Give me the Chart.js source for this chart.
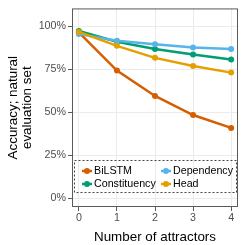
<!DOCTYPE html>
<html>
<head>
<meta charset="utf-8">
<script src="https://cdn.jsdelivr.net/npm/chart.js@4.4.1/dist/chart.umd.min.js"></script>
<style>
  html, body { margin: 0; padding: 0; background: #fff; }
  #wrap { width: 245px; height: 245px; }
</style>
</head>
<body>
<div id="wrap"><canvas id="accChart" width="245" height="245"></canvas></div>
<script>
// attractor counts on the x axis
const attractors = [0, 1, 2, 3, 4];
// accuracy (%) per model
const bilstm = [96.5, 74.3, 59.5, 48.4, 40.9];
const constituency = [97.3, 91.1, 86.9, 83.7, 80.8];
const dependency = [95.6, 91.7, 89.6, 87.7, 86.9];
const head = [96.8, 88.7, 81.7, 77.0, 73.1];
const yTicks = [0, 25, 50, 75, 100];

const FONT = "'Liberation Sans', Arial, Helvetica, sans-serif";

function toPoints(vals) {
  return vals.map((v, i) => ({ x: attractors[i], y: v }));
}

function makeSet(label, vals, color, order) {
  return {
    label: label,
    data: toPoints(vals),
    borderColor: color,
    backgroundColor: color,
    borderWidth: 2.5,
    pointRadius: 3,
    pointBorderWidth: 0,
    pointBackgroundColor: color,
    tension: 0,
    order: order,
  };
}

// panel border + dashed legend box inside the panel
const panelExtras = {
  id: "panelExtras",
  afterDatasetsDraw(chart) {
    const ctx = chart.ctx;
    const a = chart.chartArea;
    ctx.save();
    ctx.strokeStyle = "#5a5a5a";
    ctx.lineWidth = 1;
    ctx.strokeRect(a.left + 0.5, a.top + 0.5, a.right - a.left - 1, a.bottom - a.top - 1);

    // legend
    const bx = a.left + 2.5, by = a.bottom - 46.5;
    const bw = a.right - a.left - 4, bh = 32;
    ctx.setLineDash([2, 2]);
    ctx.strokeStyle = "#444";
    ctx.strokeRect(bx, by, bw, bh);
    ctx.setLineDash([]);

    const ds = chart.data.datasets;
    const cols = [[ds[0], ds[1]], [ds[2], ds[3]]];
    const colX = [a.left + 10, a.left + 89];
    const rowY = [by + 10.5, by + 23.5];
    ctx.font = "10.7px " + FONT;
    ctx.textBaseline = "middle";
    ctx.fillStyle = "#000";
    cols.forEach((col, c) => {
      col.forEach((d, r) => {
        const x = colX[c], y = rowY[r];
        ctx.strokeStyle = d.borderColor;
        ctx.lineWidth = 2.5;
        ctx.beginPath();
        ctx.moveTo(x, y);
        ctx.lineTo(x + 10, y);
        ctx.stroke();
        ctx.fillStyle = d.borderColor;
        ctx.beginPath();
        ctx.arc(x + 5, y, 3, 0, Math.PI * 2);
        ctx.fill();
        ctx.fillStyle = "#000";
        ctx.fillText(d.label, x + 12, y + 0.5);
      });
    });
    ctx.restore();
  },
};

const ctx = document.getElementById("accChart").getContext("2d");
new Chart(ctx, {
  type: "line",
  data: {
    datasets: [
      makeSet("BiLSTM", bilstm, "#D55E00", 3),
      makeSet("Constituency", constituency, "#009E73", 2),
      makeSet("Dependency", dependency, "#56B4E9", 1),
      makeSet("Head", head, "#E69F00", 0),
    ],
  },
  options: {
    responsive: false,
    animation: false,
    layout: { padding: { top: 6, right: 7, left: 0, bottom: 0 } },
    plugins: {
      legend: { display: false },
      tooltip: { enabled: false },
    },
    scales: {
      x: {
        type: "linear",
        min: -0.18,
        max: 4.18,
        afterBuildTicks: (s) => { s.ticks = attractors.map((v) => ({ value: v })); },
        afterFit: (s) => { s.height = 38; },
        ticks: {
          color: "#4D4D4D",
          font: { family: FONT, size: 10.7 },
          padding: 1,
          maxRotation: 0,
          callback: (v) => String(v),
        },
        grid: { color: "#EBEBEB", tickColor: "#5a5a5a", tickLength: 4, lineWidth: 1 },
        border: { display: false },
        title: {
          display: true,
          text: "Number of attractors",
          color: "#000",
          font: { family: FONT, size: 13.4 },
          padding: { top: 1, bottom: 0 },
        },
      },
      y: {
        min: -5.2,
        max: 110.5,
        afterBuildTicks: (s) => { s.ticks = yTicks.map((v) => ({ value: v })); },
        afterFit: (s) => { s.width = 72; },
        ticks: {
          color: "#4D4D4D",
          font: { family: FONT, size: 10.7 },
          padding: 2,
          callback: (v) => v + "%",
        },
        grid: { color: "#EBEBEB", tickColor: "#5a5a5a", tickLength: 4, lineWidth: 1 },
        border: { display: false },
        title: {
          display: true,
          text: ["Accuracy; natural", "evaluation set"],
          color: "#000",
          font: { family: FONT, size: 13.4, lineHeight: 1.05 },
          padding: { top: 6, bottom: 2 },
        },
      },
    },
  },
  plugins: [panelExtras],
});
</script>
</body>
</html>
